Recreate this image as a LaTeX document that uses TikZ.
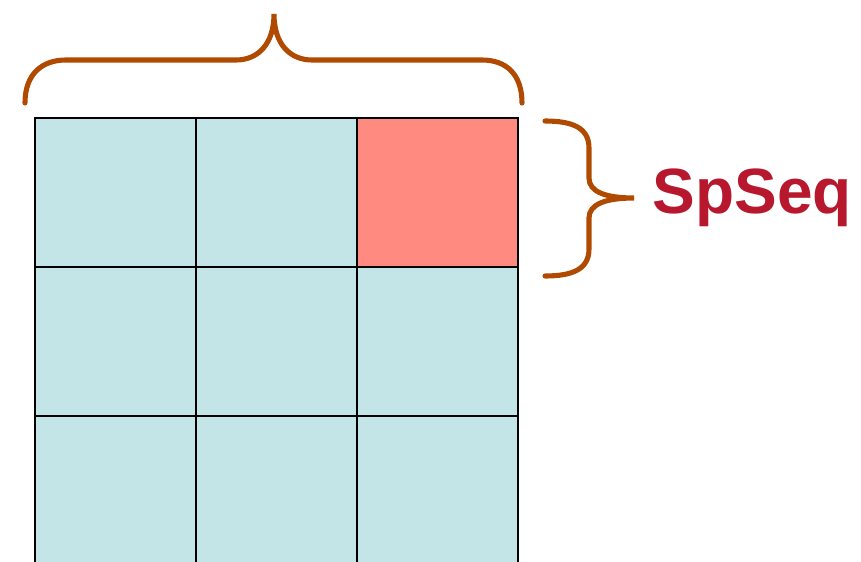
\documentclass[tikz,border=0pt]{standalone}
\usepackage{fontspec}
\setsansfont{Liberation Sans}
\usetikzlibrary{positioning}
\definecolor{pool}{HTML}{C4E5E7}
\definecolor{salmon}{HTML}{FF8A80}
\definecolor{rust}{HTML}{B04A00}
\definecolor{crimson}{HTML}{B8182E}
\tikzset{
  cell/.style  = {draw=black, fill=pool, line width=0.6pt, minimum width=16.1mm,
                  minimum height=14.9mm, inner sep=0pt, outer sep=0pt},
  hot/.style   = {cell, fill=salmon},
  brc/.style   = {draw=rust, line width=1.45pt, line cap=round},
  lbl/.style   = {font=\sffamily\bfseries\fontsize{18.2}{22}\selectfont,
                  text=crimson, inner sep=0pt},
}

\begin{document}
\begin{tikzpicture}[x=0.1mm, y=-0.1mm]
\useasboundingbox (0,0) rectangle (861,562);
\clip (0,0) rectangle (861,562);

% ---------------- the 3x3 grid ----------------------------------------
\foreach \r/\c/\s in {1/1/cell, 1/2/cell, 1/3/hot,
                      2/1/cell, 2/2/cell, 2/3/cell,
                      3/1/cell, 3/2/cell, 3/3/cell}
  \node[\s] (c\r\c) at ({35+161*(\c-0.5)}, {118+149*(\r-0.5)}) {};

% ---------------- braces and label ------------------------------------
\coordinate (topl) at (25,103);
\coordinate (topr) at (522,103);
\coordinate (toptip) at (274,14);
\draw[brc] (topl) .. controls (25,74) and (42,60) .. (66,60) -- (236,60)
  .. controls (258,60) and (274,44) .. (toptip)
  .. controls (274,44) and (290,60) .. (312,60) -- (482,60)
  .. controls (506,60) and (522,74) .. (topr);

\node[lbl, anchor=base west] (spseq) at (652,213) {SpSeq};

\coordinate (rgt) at (545,121);
\coordinate (rgb) at (545,276);
\coordinate (rgtip) at (634,198);
\draw[brc] (rgt) .. controls (573,121) and (589,128) .. (589,148) -- (589,178)
  .. controls (589,192) and (606,198) .. (rgtip)
  .. controls (606,198) and (589,204) .. (589,218) -- (589,249)
  .. controls (589,269) and (573,276) .. (rgb);

\end{tikzpicture}
\end{document}
